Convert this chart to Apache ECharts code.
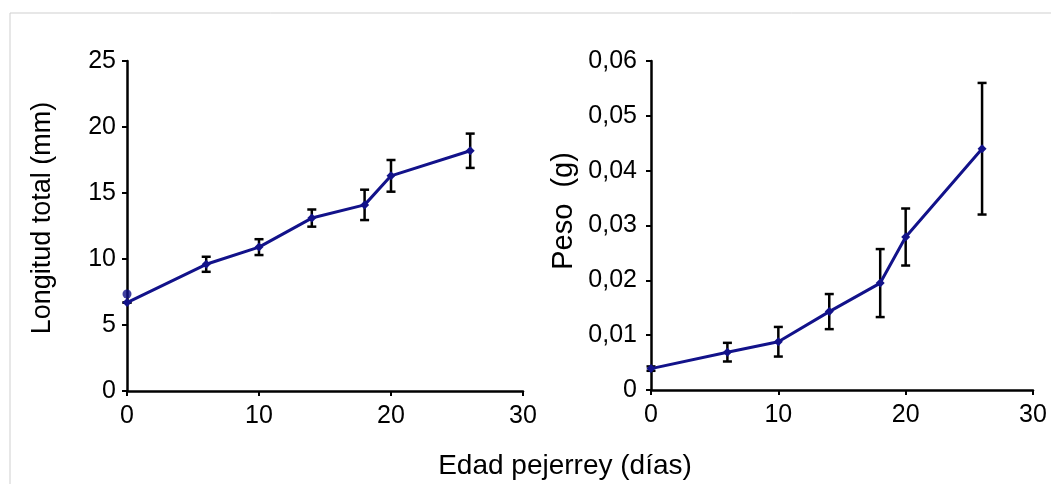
<!DOCTYPE html>
<html>
<head>
<meta charset="utf-8">
<script src="https://cdn.jsdelivr.net/npm/echarts@6/dist/echarts.min.js"></script>
<style>
  html, body { margin: 0; padding: 0; background: #ffffff; }
  #chart { width: 1051px; height: 484px; }
</style>
</head>
<body>
<div id="chart"></div>
<script>
// Age of the fish (days)
const days = [0, 6, 10, 14, 18, 20, 26];

// Total length (mm): mean and error half-width
const lengthMean = [6.7, 9.6, 10.9, 13.1, 14.1, 16.3, 18.2];
const lengthErr  = [0, 0.57, 0.6, 0.65, 1.15, 1.2, 1.3];
// Separate initial measurement at day 0
const lengthStart = [[0, 7.35]];

// Weight (g): mean and error half-width
const weightMean = [0.0039, 0.0069, 0.0088, 0.0143, 0.0195, 0.0279, 0.044];
const weightErr  = [0.0004, 0.0017, 0.0027, 0.0032, 0.0062, 0.0052, 0.012];

const lineColor = '#12128a';
const font = 'Liberation Sans, Arial, sans-serif';

function pairs(xs, ys) { return xs.map((x, i) => [x, ys[i]]); }
function bars(xs, ys, es) { return xs.map((x, i) => [x, ys[i] - es[i], ys[i] + es[i]]); }

function errorRender(params, api) {
  const x = api.value(0);
  const lo = api.coord([x, api.value(1)]);
  const hi = api.coord([x, api.value(2)]);
  const cap = 4.5;
  const style = { stroke: '#000', lineWidth: 2.5 };
  return {
    type: 'group',
    children: [
      { type: 'line', shape: { x1: lo[0], y1: lo[1], x2: hi[0], y2: hi[1] }, style },
      { type: 'line', shape: { x1: lo[0] - cap, y1: lo[1], x2: lo[0] + cap, y2: lo[1] }, style },
      { type: 'line', shape: { x1: hi[0] - cap, y1: hi[1], x2: hi[0] + cap, y2: hi[1] }, style }
    ]
  };
}

const axisCommon = {
  axisLine: { show: true, onZero: false, lineStyle: { color: '#000', width: 2.5 } },
  axisTick: { show: true, inside: false, length: 5, lineStyle: { color: '#000', width: 2 } },
  splitLine: { show: false }
};

function xAxis(gridIndex) {
  return Object.assign({
    type: 'value', gridIndex, min: 0, max: 30, interval: 10,
    axisLabel: { fontFamily: font, fontSize: 25, color: '#000', margin: 13 }
  }, axisCommon);
}

const option = {
  backgroundColor: '#ffffff',
  animation: false,
  grid: [
    { left: 127, top: 61, width: 396, height: 330 },
    { left: 651, top: 61, width: 382, height: 329 }
  ],
  xAxis: [xAxis(0), xAxis(1)],
  yAxis: [
    Object.assign({
      type: 'value', gridIndex: 0, min: 0, max: 25, interval: 5,
      axisLabel: { fontFamily: font, fontSize: 25, color: '#000', margin: 11 }
    }, axisCommon),
    Object.assign({
      type: 'value', gridIndex: 1, min: 0, max: 0.06, interval: 0.01,
      axisLabel: {
        fontFamily: font, fontSize: 25, color: '#000', margin: 14,
        formatter: v => v === 0 ? '0' : v.toFixed(2).replace('.', ',')
      }
    }, axisCommon)
  ],
  graphic: [
    { type: 'rect', shape: { x: 10, y: 13, width: 1100, height: 500 },
      style: { fill: 'none', stroke: '#cfcfcf', lineWidth: 1 }, silent: true },
    { type: 'text', x: 43, y: 218, rotation: Math.PI / 2,
      style: { text: 'Longitud total (mm)', font: '27px ' + font, fill: '#000',
               textAlign: 'center', textVerticalAlign: 'middle' } },
    { type: 'text', x: 564, y: 211, rotation: Math.PI / 2,
      style: { text: 'Peso  (g)', font: '29px ' + font, fill: '#000',
               textAlign: 'center', textVerticalAlign: 'middle' } },
    { type: 'text', x: 565, y: 466,
      style: { text: 'Edad pejerrey (días)', font: '28px ' + font, fill: '#000',
               textAlign: 'center', textVerticalAlign: 'middle' } }
  ],
  series: [
    { type: 'custom', xAxisIndex: 0, yAxisIndex: 0, renderItem: errorRender,
      data: bars(days, lengthMean, lengthErr), z: 3 },
    { type: 'line', xAxisIndex: 0, yAxisIndex: 0, data: pairs(days, lengthMean),
      symbol: 'diamond', symbolSize: 9, showSymbol: true,
      lineStyle: { color: lineColor, width: 3 }, itemStyle: { color: lineColor }, z: 4 },
    { type: 'scatter', xAxisIndex: 0, yAxisIndex: 0, data: lengthStart,
      symbol: 'circle', symbolSize: 9, itemStyle: { color: lineColor }, z: 5 },
    { type: 'custom', xAxisIndex: 1, yAxisIndex: 1, renderItem: errorRender,
      data: bars(days, weightMean, weightErr), z: 3 },
    { type: 'line', xAxisIndex: 1, yAxisIndex: 1, data: pairs(days, weightMean),
      symbol: 'diamond', symbolSize: 9, showSymbol: true,
      lineStyle: { color: lineColor, width: 3 }, itemStyle: { color: lineColor }, z: 4 }
  ]
};

const chart = echarts.init(document.getElementById('chart'), null, { renderer: 'canvas' });
chart.setOption(option);
</script>
</body>
</html>
